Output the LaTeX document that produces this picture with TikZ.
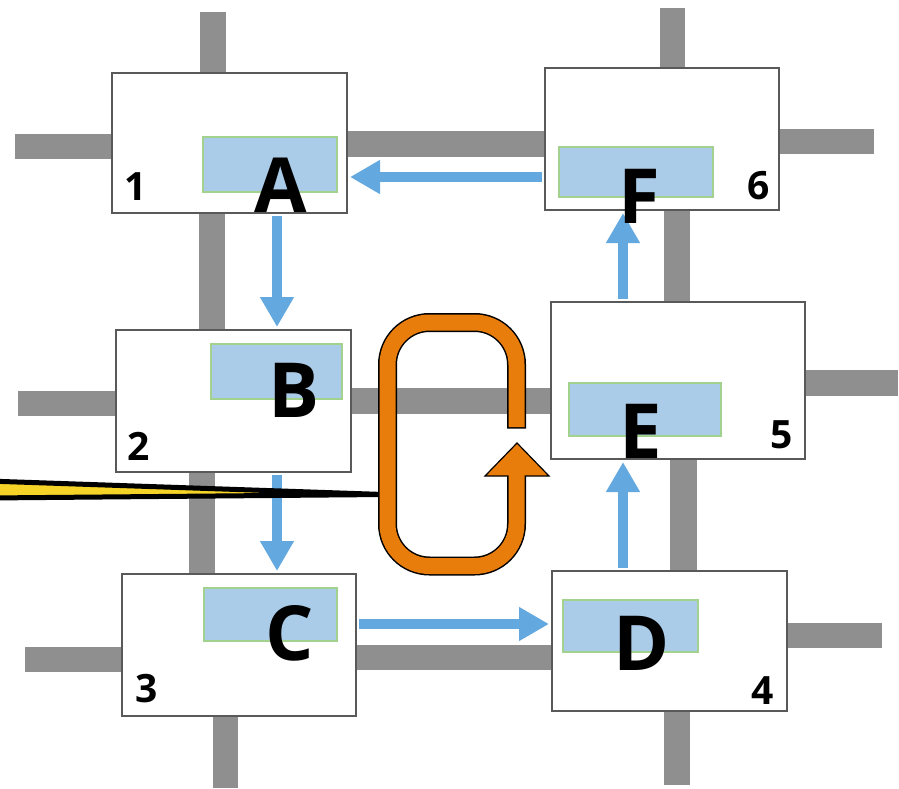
\documentclass[tikz,border=0pt]{standalone}
\usepackage{fontspec}
\setmainfont{Open Sans}
\usetikzlibrary{arrows.meta,calc}
\definecolor{barg}{HTML}{8F8F8F}
\definecolor{boxline}{HTML}{595959}
\definecolor{barrowc}{HTML}{63A8DF}
\definecolor{rectfill}{HTML}{AACCE9}
\definecolor{rectline}{HTML}{A3D28E}
\definecolor{orangec}{HTML}{E97D0C}
\definecolor{yellowc}{HTML}{F5D327}
\begin{document}
\begin{tikzpicture}[x=1pt,y=-1pt,
  box/.style={draw=boxline, fill=white, line width=2pt, inner sep=0pt},
  slot/.style={draw=rectline, fill=rectfill, line width=1.2pt, inner sep=0pt},
  letter/.style={inner sep=0pt, font=\fontsize{76}{76}\selectfont\bfseries},
  num/.style={inner sep=0pt, font=\fontsize{39}{39}\selectfont\bfseries},
  link/.style={fill=barg},
  flow/.style={draw=barrowc, line width=10pt, -{Triangle[length=30pt,width=32pt]}, shorten <=2pt, shorten >=2pt}]
\useasboundingbox (0,0) rectangle (899,788);

% gray links
\fill[link] (200,12) rectangle (226,73);
\fill[link] (15,134) rectangle (112,159);
\fill[link] (347,131) rectangle (545,157);
\fill[link] (199,213) rectangle (225,330);
\fill[link] (18,391) rectangle (116,416);
\fill[link] (351,388) rectangle (551,414);
\fill[link] (189,472) rectangle (215,574);
\fill[link] (25,647) rectangle (122,672);
\fill[link] (356,645) rectangle (552,670);
\fill[link] (213,716) rectangle (238,788);
\fill[link] (787,623) rectangle (882,648);
\fill[link] (664,711) rectangle (690,785);
\fill[link] (670,459) rectangle (697,571);
\fill[link] (805,370) rectangle (898,396);
\fill[link] (664,210) rectangle (690,302);
\fill[link] (779,129) rectangle (874,154);
\fill[link] (660,8) rectangle (685,68);

% boxes
\node[box, minimum width=235pt, minimum height=140pt] (b1) at (229.5,143) {};
\node[box, minimum width=235pt, minimum height=142pt] (b2) at (233.5,401) {};
\node[box, minimum width=234pt, minimum height=142pt] (b3) at (239,645) {};
\node[box, minimum width=235pt, minimum height=140pt] (b4) at (669.5,641) {};
\node[box, minimum width=254pt, minimum height=157pt] (b5) at (678,380.5) {};
\node[box, minimum width=234pt, minimum height=142pt] (b6) at (662,139) {};

% blue slots
\node[slot, minimum width=134pt, minimum height=55pt] (r1) at (270,164.5) {};
\node[slot, minimum width=131pt, minimum height=55pt] (r2) at (276.5,371.5) {};
\node[slot, minimum width=133pt, minimum height=53pt] (r3) at (270.5,614.5) {};
\node[slot, minimum width=135pt, minimum height=52pt] (r4) at (630.5,626) {};
\node[slot, minimum width=152pt, minimum height=53pt] (r5) at (645,409.5) {};
\node[slot, minimum width=154pt, minimum height=50pt] (r6) at (636,172) {};

% numbers
\node[num] (n1) at (135.5,187) {1};
\node[num] (n2) at (139,446) {2};
\node[num] (n3) at (146.5,689) {3};
\node[num] (n4) at (763,690.5) {4};
\node[num] (n5) at (781.5,434.5) {5};
\node[num] (n6) at (759,186) {6};

% blue flow arrows
\draw[flow] (277,0 |- b1.south) -- (277,0 |- b2.north);
\draw[flow] (277,0 |- b2.south) -- (277,0 |- b3.north);
\draw[flow] (b3.east |- 0,624) -- (b4.west |- 0,624);
\draw[flow] (623,0 |- b4.north) -- (623,0 |- b5.south);
\draw[flow] (623,0 |- b5.north) -- (623,0 |- b6.south);
\draw[flow] (b6.west |- 0,177) -- (b1.east |- 0,177);

% letters
\node[letter] (A) at (281,185) {A};
\node[letter] (B) at (294,390.5) {B};
\node[letter] (C) at (290,633.5) {C};
\node[letter] (D) at (642,643) {D};
\node[letter] (E) at (640.5,431.5) {E};
\node[letter] (F) at (639.5,196) {F};

% yellow wedge
\draw[fill=yellowc, draw=black, line width=5pt, line join=round]
  (-12,481) -- (384,494.5) -- (-12,498) -- cycle;

% orange loop arrow
\draw[black, line width=19pt, rounded corners=42pt]
  (516.5,428.5) -- (516.5,322.5) -- (387.5,322.5) -- (387.5,566) -- (516.5,566) -- (516.5,476);
\draw[fill=orangec, draw=black, line width=1.2pt, line join=miter]
  (485,476) -- (549,476) -- (517,443) -- cycle;
\draw[orangec, line width=16pt, rounded corners=42pt]
  (516.5,427) -- (516.5,322.5) -- (387.5,322.5) -- (387.5,566) -- (516.5,566) -- (516.5,470);
\end{tikzpicture}
\end{document}
